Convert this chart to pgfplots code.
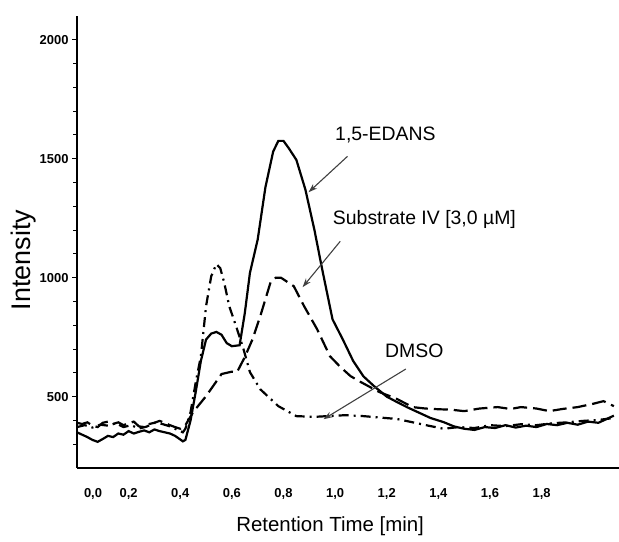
\documentclass[border=0pt]{standalone}
\usepackage{fontspec}
\setmainfont{Liberation Sans}
\usepackage{pgfplots}
\pgfplotsset{compat=1.18}
\usetikzlibrary{arrows.meta}

\begin{document}
\begin{tikzpicture}[x=1bp,y=1bp]
\begin{axis}[
    at={(77bp,74bp)}, anchor=south west,
    scale only axis, width=542bp, height=452bp,
    xmin=0, xmax=2.1, ymin=200, ymax=2100,
    axis lines=left,
    axis line style={-, line width=2bp},
    clip=false,
    xtick={0.062,0.2,0.4,0.6,0.8,1.0,1.2,1.4,1.6,1.8},
    xticklabels={{0,0},{0,2},{0,4},{0,6},{0,8},{1,0},{1,2},{1,4},{1,6},{1,8}},
    ytick={500,1000,1500,2000},
    yticklabels={500,1000,1500,2000},
    minor ytick={300,400,600,700,800,900,1100,1200,1300,1400,1600,1700,1800,1900,2000},
    tick align=outside,
    x tick style={draw=none},
    y tick style={line width=0.9bp, black},
    major tick length=5bp, minor tick length=4bp,
    tick label style={font=\fontsize{13}{16}\selectfont\bfseries},
    xticklabel style={yshift=-12bp},
    xlabel={Retention Time [min]},
    ylabel={Intensity},
    xlabel style={font=\fontsize{20.5}{24}\selectfont, at={(axis description cs:0.467,-0.128)}, anchor=center},
    ylabel style={font=\fontsize{27}{30}\selectfont, at={(axis description cs:-0.099,0.46)}, anchor=center},
]
% 1,5-EDANS (solid)
\addplot[black, line width=2.2bp] coordinates {
(0.00,350) (0.02,340) (0.04,330) (0.06,318) (0.08,310) (0.10,322) (0.12,335) (0.14,330)
(0.16,345) (0.18,340) (0.20,355) (0.22,345) (0.24,352) (0.26,358) (0.28,350) (0.30,362)
(0.32,355) (0.34,350) (0.36,345) (0.38,335) (0.40,320) (0.41,312) (0.42,318)
(0.44,400) (0.46,520) (0.48,650) (0.50,740) (0.52,765) (0.54,772) (0.56,760) (0.58,725)
(0.60,712) (0.63,716) (0.65,850) (0.67,1020) (0.70,1160) (0.73,1380) (0.76,1530)
(0.78,1575) (0.80,1575) (0.82,1545) (0.85,1495) (0.885,1370) (0.92,1200) (0.95,1035)
(0.99,825) (1.03,740) (1.07,650) (1.11,585) (1.15,545) (1.20,500) (1.24,477) (1.28,455)
(1.32,435) (1.37,410) (1.42,393) (1.46,375) (1.50,365) (1.54,360) (1.58,372) (1.62,368)
(1.66,380) (1.70,370) (1.74,378) (1.78,372) (1.82,385) (1.86,380) (1.90,390) (1.94,382)
(1.98,395) (2.02,390) (2.05,405) (2.08,420)
};
% Substrate IV (dashed)
\addplot[black, line width=2.2bp, dash pattern=on 14bp off 6bp] coordinates {
(0.00,390) (0.02,385) (0.04,392) (0.06,378) (0.08,372) (0.10,390) (0.12,395) (0.14,385)
(0.16,392) (0.18,380) (0.20,388) (0.22,395) (0.24,375) (0.26,372) (0.28,385) (0.30,390)
(0.32,398) (0.34,390) (0.36,380) (0.38,372) (0.40,365) (0.42,380)
(0.45,435) (0.50,502) (0.56,595) (0.60,605) (0.62,603) (0.65,666) (0.68,741) (0.71,838)
(0.75,981) (0.77,1000) (0.79,1000) (0.84,964) (0.88,880) (0.93,784) (0.98,670) (1.02,625)
(1.06,586) (1.10,561) (1.17,520) (1.24,490) (1.30,456) (1.35,450) (1.40,447) (1.45,445)
(1.50,439) (1.56,450) (1.63,456) (1.68,448) (1.72,456) (1.78,450) (1.83,439) (1.88,448)
(1.94,456) (2.00,470) (2.04,481) (2.08,460)
};
% DMSO (dash-dot)
\addplot[black, line width=2.2bp, dash pattern=on 10bp off 5bp on 2bp off 5bp] coordinates {
(0.00,372) (0.03,380) (0.06,370) (0.09,382) (0.12,378) (0.15,388) (0.18,372) (0.21,380)
(0.24,366) (0.27,374) (0.30,390) (0.33,385) (0.36,375) (0.39,360) (0.41,350) (0.42,365)
(0.44,435) (0.46,560) (0.48,670) (0.50,880) (0.52,1006) (0.54,1057) (0.555,1040)
(0.57,981) (0.59,880) (0.62,784) (0.645,700) (0.67,603) (0.71,531) (0.78,460) (0.85,418)
(0.92,415) (0.97,418) (1.04,422) (1.11,418) (1.24,406) (1.37,376) (1.42,365) (1.48,372)
(1.54,368) (1.60,380) (1.66,376) (1.72,384) (1.78,380) (1.84,388) (1.90,392) (1.96,398)
(2.02,402) (2.08,410)
};
\node[font=\fontsize{19.5}{22}\selectfont] at (axis cs:1.195,1602) {1,5-EDANS};
\draw[-{Stealth[length=9bp,width=6bp]}, line width=1.1bp, black!75] (axis cs:1.048,1510) -- (axis cs:0.897,1359);
\node[font=\fontsize{19.5}{22}\selectfont] at (axis cs:1.346,1245) {Substrate IV [3,0 µM]};
\draw[-{Stealth[length=9bp,width=6bp]}, line width=1.1bp, black!75] (axis cs:1.02,1153) -- (axis cs:0.874,960);
\node[font=\fontsize{19.5}{22}\selectfont] at (axis cs:1.307,691) {DMSO};
\draw[-{Stealth[length=9bp,width=6bp]}, line width=1.1bp, black!75] (axis cs:1.274,616) -- (axis cs:0.955,405);
\end{axis}
\pgfresetboundingbox
\useasboundingbox (0,0) rectangle (619,542);
\end{tikzpicture}
\end{document}
